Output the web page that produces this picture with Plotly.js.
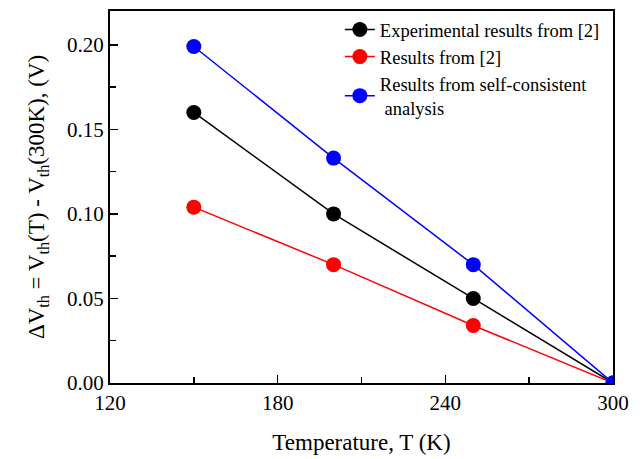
<!DOCTYPE html>
<html><head><meta charset="utf-8">
<script src="https://cdn.plot.ly/plotly-3.0.1.min.js"></script>
<style>body{margin:0;background:#fff}#c{width:644px;height:459px}</style>
</head><body><div id="c"></div>
<script>
const temps = [150, 200, 250, 300];
const experimental = [0.160, 0.100, 0.050, 0.000];
const resultsRef = [0.104, 0.070, 0.034, 0.000];
const selfConsistent = [0.199, 0.133, 0.070, 0.000];
const names = ["Experimental results from [2]", "Results from [2]", "Results from self-consistent<br> analysis"];
const xTicks = [120, 180, 240, 300];
const yTicks = [0, 0.05, 0.10, 0.15, 0.20];

const mk = (y, name, color) => ({
  x: temps, y: y, name: name, type: 'scatter', mode: 'lines+markers',
  line: {color: color, width: 1.5},
  marker: {color: color, size: 15}
});
const data = [
  mk(experimental, names[0], '#000000'),
  mk(resultsRef, names[1], '#ff0000'),
  mk(selfConsistent, names[2], '#0000ff')
];
const FAM = 'Liberation Serif';
const f = (s) => ({family: FAM, size: s, color: '#000'});
const layout = {
  width: 644, height: 459,
  margin: {l: 110, r: 31, t: 11, b: 76},
  paper_bgcolor: '#fff', plot_bgcolor: '#fff',
  font: f(18),
  showlegend: true,
  legend: {x: 0.457, y: 1, xanchor: 'left', yanchor: 'top', borderwidth: 0,
    bgcolor: 'rgba(0,0,0,0)', font: f(18.5), tracegroupgap: 0},
  xaxis: {range: [120, 300], tickmode: 'array', tickvals: xTicks,
    ticks: 'inside', ticklen: 8, tickwidth: 1.5, tickcolor: '#000',
    showline: true, linewidth: 2, linecolor: '#000', mirror: true, showgrid: false, zeroline: false,
    tickfont: f(21),
    minor: {tickvals: [150, 210, 270], ticks: 'inside', ticklen: 6, tickwidth: 1.5, tickcolor: '#000', showgrid: false},
    title: {text: 'Temperature, T (K)', font: f(23), standoff: 20}},
  yaxis: {range: [0, 0.22], tickmode: 'array', tickvals: yTicks, tickformat: '.2f',
    ticks: 'inside', ticklen: 8, tickwidth: 1.5, tickcolor: '#000',
    showline: true, linewidth: 2, linecolor: '#000', mirror: true, showgrid: false, zeroline: false,
    tickfont: f(21),
    minor: {tickvals: [0.025, 0.075, 0.125, 0.175], ticks: 'inside', ticklen: 6, tickwidth: 1.5, tickcolor: '#000', showgrid: false},
    title: {text: 'ΔV<sub>th</sub> = V<sub>th</sub>(T) - V<sub>th</sub>(300K), (V)', font: f(23), standoff: 16}}
};
Plotly.newPlot('c', data, layout, {displayModeBar: false, staticPlot: true});
</script></body></html>
